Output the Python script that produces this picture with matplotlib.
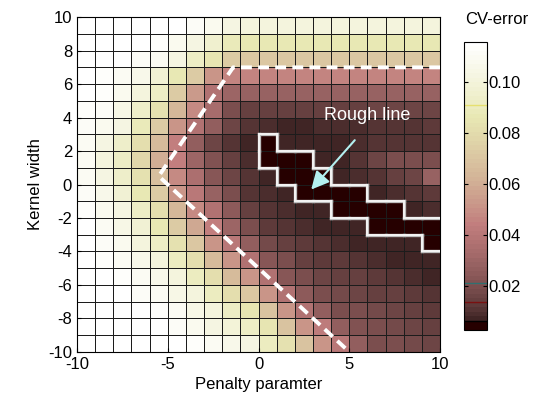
import numpy as np
import matplotlib
matplotlib.use("Agg")
import matplotlib.pyplot as plt
from matplotlib.colors import ListedColormap
from matplotlib.collections import LineCollection

plt.rcParams['font.family'] = ['Liberation Sans', 'DejaVu Sans']
plt.rcParams['axes.unicode_minus'] = False

# ---- data -------------------------------------------------------------
penalty_edges = list(range(-10, 11))      # x cell edges
kernel_edges = list(range(-10, 11))       # y cell edges
x_ticks = [-10, -5, 0, 5, 10]
y_ticks = [-10, -8, -6, -4, -2, 0, 2, 4, 6, 8, 10]
cbar_ticks = [0.02, 0.04, 0.06, 0.08, 0.10]
cbar_ticklabels = ['0.02', '0.04', '0.06', '0.08', '0.10']
cbar_range = [0.003, 0.1156]
rough_threshold = 0.0065
cbar_marks = [0.091, 0.0212, 0.0139, 0.0065]
cbar_mark_colors = ['#e6e070', '#2f7070', '#7a1010', '#000000']

# CV error, rows from kernel width 9..10 (top) down to -10..-9 (bottom),
# columns from penalty -10..-9 (left) to 9..10 (right)
cv_error = [
    [0.115, 0.115, 0.115, 0.115, 0.115, 0.115, 0.112, 0.107, 0.102, 0.100, 0.100, 0.100, 0.100, 0.100, 0.100, 0.100, 0.100, 0.100, 0.100, 0.100],
    [0.115, 0.115, 0.115, 0.115, 0.113, 0.107, 0.102, 0.095, 0.088, 0.086, 0.086, 0.086, 0.086, 0.086, 0.086, 0.086, 0.086, 0.086, 0.086, 0.086],
    [0.115, 0.115, 0.115, 0.112, 0.109, 0.103, 0.092, 0.085, 0.072, 0.071, 0.070, 0.070, 0.070, 0.070, 0.070, 0.070, 0.070, 0.070, 0.070, 0.070],
    [0.115, 0.113, 0.109, 0.106, 0.098, 0.087, 0.072, 0.051, 0.046, 0.046, 0.046, 0.046, 0.046, 0.046, 0.046, 0.046, 0.046, 0.046, 0.046, 0.046],
    [0.114, 0.113, 0.107, 0.101, 0.091, 0.073, 0.053, 0.038, 0.030, 0.028, 0.029, 0.029, 0.029, 0.029, 0.029, 0.029, 0.029, 0.029, 0.029, 0.029],
    [0.113, 0.111, 0.104, 0.094, 0.083, 0.063, 0.048, 0.033, 0.020, 0.015, 0.014, 0.014, 0.014, 0.015, 0.015, 0.015, 0.016, 0.016, 0.016, 0.016],
    [0.111, 0.107, 0.102, 0.088, 0.072, 0.051, 0.038, 0.026, 0.017, 0.011, 0.0085, 0.008, 0.008, 0.0085, 0.009, 0.0095, 0.0105, 0.011, 0.0115, 0.012],
    [0.109, 0.102, 0.093, 0.082, 0.065, 0.045, 0.027, 0.0165, 0.011, 0.0075, 0.0045, 0.0068, 0.0070, 0.0078, 0.0081, 0.0086, 0.0103, 0.0103, 0.0106, 0.0115],
    [0.109, 0.101, 0.092, 0.077, 0.060, 0.045, 0.031, 0.022, 0.014, 0.0084, 0.0045, 0.0040, 0.0042, 0.0068, 0.0076, 0.011, 0.0165, 0.019, 0.020, 0.019],
    [0.110, 0.103, 0.094, 0.083, 0.067, 0.047, 0.036, 0.024, 0.0165, 0.0105, 0.0068, 0.0040, 0.0035, 0.0042, 0.0068, 0.0084, 0.0105, 0.014, 0.017, 0.029],
    [0.112, 0.106, 0.098, 0.087, 0.072, 0.051, 0.040, 0.029, 0.019, 0.011, 0.0086, 0.0067, 0.0045, 0.0040, 0.0038, 0.0045, 0.0070, 0.0085, 0.0103, 0.012],
    [0.113, 0.108, 0.102, 0.091, 0.082, 0.063, 0.048, 0.037, 0.025, 0.014, 0.0103, 0.0086, 0.0075, 0.0067, 0.0045, 0.0040, 0.0038, 0.0042, 0.0075, 0.0086],
    [0.114, 0.110, 0.104, 0.097, 0.087, 0.073, 0.058, 0.045, 0.031, 0.020, 0.013, 0.011, 0.0093, 0.0078, 0.0069, 0.0066, 0.0045, 0.0040, 0.0035, 0.0040],
    [0.115, 0.112, 0.107, 0.101, 0.092, 0.083, 0.070, 0.051, 0.040, 0.026, 0.018, 0.014, 0.012, 0.0103, 0.0088, 0.0078, 0.0070, 0.0067, 0.0066, 0.0045],
    [0.115, 0.113, 0.110, 0.106, 0.100, 0.090, 0.082, 0.066, 0.051, 0.037, 0.023, 0.019, 0.0152, 0.013, 0.012, 0.0103, 0.0093, 0.0080, 0.0070, 0.0067],
    [0.115, 0.115, 0.113, 0.109, 0.106, 0.100, 0.090, 0.082, 0.066, 0.051, 0.037, 0.024, 0.019, 0.0165, 0.0152, 0.014, 0.013, 0.011, 0.0093, 0.0080],
    [0.115, 0.115, 0.115, 0.112, 0.109, 0.104, 0.100, 0.090, 0.082, 0.070, 0.051, 0.038, 0.025, 0.020, 0.018, 0.0167, 0.0152, 0.014, 0.012, 0.0103],
    [0.115, 0.115, 0.115, 0.115, 0.113, 0.109, 0.104, 0.100, 0.091, 0.085, 0.069, 0.051, 0.038, 0.026, 0.020, 0.019, 0.018, 0.0165, 0.014, 0.013],
    [0.115, 0.115, 0.115, 0.115, 0.115, 0.112, 0.108, 0.103, 0.099, 0.092, 0.085, 0.069, 0.051, 0.042, 0.027, 0.0215, 0.019, 0.018, 0.0165, 0.014],
    [0.115, 0.115, 0.115, 0.115, 0.115, 0.115, 0.113, 0.109, 0.106, 0.103, 0.090, 0.083, 0.069, 0.051, 0.040, 0.027, 0.020, 0.019, 0.018, 0.0165],
]

# dashed region boundary (penalty, kernel width)
boundary_x = [10, -1.4, -5.5, 5]
boundary_y = [7, 7, 0.5, -10]

# arrow (tail -> head) and label
arrow_tail = (5.3, 2.65)
arrow_head = (2.9, -0.3)
label_pos = (6.0, 4.15)

# ---- colormap: pink, lowest levels dark red ---------------------------
n_levels = 64
base = plt.get_cmap('pink')(np.linspace(0, 1, n_levels))
n_low = int(round((rough_threshold - cbar_range[0]) / (cbar_range[1] - cbar_range[0]) * n_levels))
base[:n_low] = [0.15, 0.0, 0.0, 1.0]
cmap = ListedColormap(base)

# ---- figure -----------------------------------------------------------
fig = plt.figure(figsize=(5.42, 3.99), dpi=100)
ax = fig.add_axes([0.142, 0.118, 0.670, 0.839])

Z = np.array(cv_error)[::-1]
xe = np.array(penalty_edges)
ye = np.array(kernel_edges)
mesh = ax.pcolormesh(xe, ye, Z, cmap=cmap, vmin=cbar_range[0], vmax=cbar_range[1],
                     edgecolors='#1c1c1c', linewidth=0.7)

# outline of the rough region (cells below threshold)
mask = Z < rough_threshold
segs = []
ny, nx = mask.shape
for j in range(ny):
    for i in range(nx):
        if not mask[j, i]:
            continue
        x0, x1 = xe[i], xe[i + 1]
        y0, y1 = ye[j], ye[j + 1]
        if j + 1 < ny and not mask[j + 1, i]:
            segs.append([(x0, y1), (x1, y1)])
        if j - 1 >= 0 and not mask[j - 1, i]:
            segs.append([(x0, y0), (x1, y0)])
        if i - 1 >= 0 and not mask[j, i - 1]:
            segs.append([(x0, y0), (x0, y1)])
        if i + 1 < nx and not mask[j, i + 1]:
            segs.append([(x1, y0), (x1, y1)])
ax.add_collection(LineCollection(segs, colors='#bdbdbd', linewidths=2.4, capstyle='projecting', zorder=3))
ax.add_collection(LineCollection(segs, colors='#f4f4f4', linewidths=1.4, capstyle='projecting', zorder=3))

ax.plot(boundary_x, boundary_y, color='white', lw=2.8, dashes=(2.8, 1.6), zorder=4, clip_on=True)

ax.annotate('', xy=arrow_head, xytext=arrow_tail,
            arrowprops=dict(arrowstyle='-|>,head_length=0.6,head_width=0.3', color='#b4f0f0',
                            lw=1.5, mutation_scale=18, shrinkA=0, shrinkB=0), zorder=5)
ax.text(label_pos[0], label_pos[1], 'Rough line', color='white', fontsize=13,
        ha='center', va='center', zorder=5)

ax.set_xlim(-10, 10)
ax.set_ylim(-10, 10)
ax.set_xticks(x_ticks)
ax.set_yticks(y_ticks)
ax.tick_params(direction='in', length=3, labelsize=12)
ax.set_xlabel('Penalty paramter', fontsize=12)
ax.set_ylabel('Kernel width', fontsize=12)

cax = fig.add_axes([0.857, 0.173, 0.042, 0.722])
cb = fig.colorbar(mesh, cax=cax)
cb.set_ticks(cbar_ticks)
cb.set_ticklabels(cbar_ticklabels)
cax.tick_params(direction='in', left=True, right=True, length=3, labelsize=12, pad=1)
cb.outline.set_linewidth(0.8)
for v, c in zip(cbar_marks, cbar_mark_colors):
    cax.axhline(v, color=c, lw=1.0)
fig.text(465 / 542, 1 - 20 / 399, 'CV-error', fontsize=12, ha='left', va='center')

fig.savefig('out.png', dpi=100)
